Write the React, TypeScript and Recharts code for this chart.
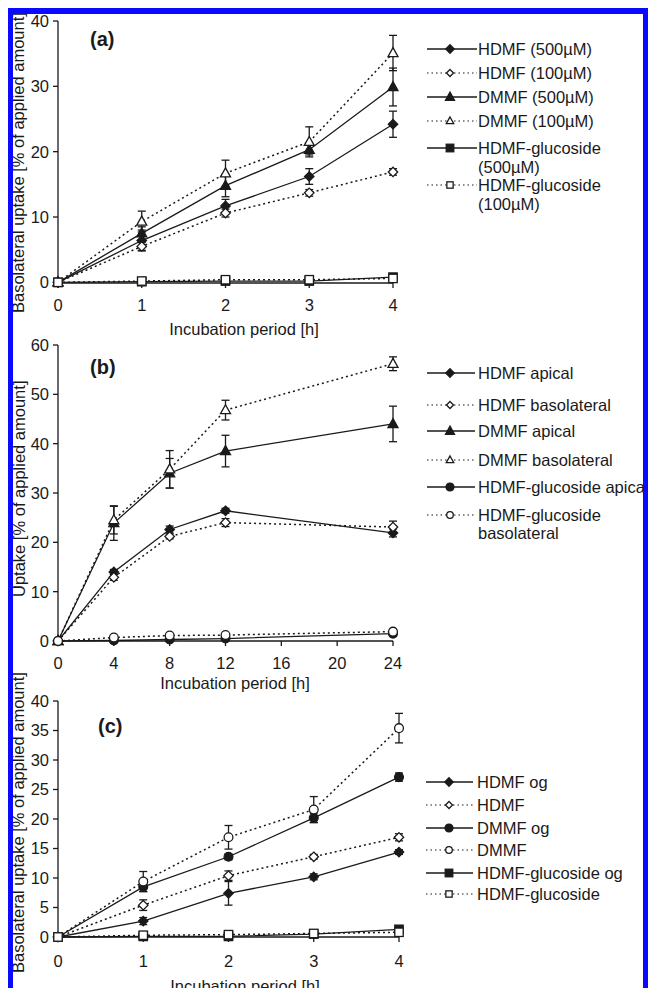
import React from "react";
import { LineChart, Line, XAxis, YAxis, ErrorBar, Label } from "recharts";

const FONT = '"Liberation Sans", Arial, Helvetica, sans-serif';
const INK = "#1a1a1a";
const BLUE = "#0a0aff";

// ---------- Panel (a) ----------
const hoursA = [0, 1, 2, 3, 4];
const xTicksA = [0, 1, 2, 3, 4];
const yTicksA = [0, 10, 20, 30, 40];
const aHdmf500 = [0, 6.4, 11.7, 16.2, 24.2];
const aHdmf500Err = [0, 1.6, 1.0, 1.2, 2.0];
const aHdmf100 = [0, 5.5, 10.6, 13.7, 16.9];
const aHdmf100Err = [0, 0.6, 0.6, 0.5, 0.5];
const aDmmf500 = [0, 7.5, 14.8, 20.3, 29.9];
const aDmmf500Err = [0, 1.0, 1.7, 0.8, 2.9];
const aDmmf100 = [0, 9.3, 16.7, 21.5, 35.1];
const aDmmf100Err = [0, 1.6, 2.0, 2.3, 2.7];
const aGluc500 = [0, 0.1, 0.2, 0.2, 0.8];
const aGluc500Err = [0, 0.2, 0.2, 0.3, 0.4];
const aGluc100 = [0, 0.2, 0.4, 0.4, 0.6];
const aGluc100Err = [0, 0.2, 0.3, 0.3, 0.4];

// ---------- Panel (b) ----------
const hoursB = [0, 4, 8, 12, 24];
const xTicksB = [0, 4, 8, 12, 16, 20, 24];
const yTicksB = [0, 10, 20, 30, 40, 50, 60];
const bHdmfAp = [0, 14.0, 22.6, 26.4, 21.9];
const bHdmfApErr = [0, 0.5, 0.7, 0.5, 0.8];
const bHdmfBl = [0, 12.9, 21.2, 24.0, 23.1];
const bHdmfBlErr = [0, 0.6, 0.5, 0.8, 1.2];
const bDmmfAp = [0, 23.9, 34.0, 38.5, 44.0];
const bDmmfApErr = [0, 3.5, 3.0, 3.2, 3.6];
const bDmmfBl = [0, 24.5, 34.8, 46.8, 56.2];
const bDmmfBlErr = [0, 2.8, 3.8, 2.0, 1.4];
const bGlucAp = [0, 0.1, 0.3, 0.5, 1.5];
const bGlucApErr = [0, 0.1, 0.1, 0.2, 0.3];
const bGlucBl = [0, 0.7, 1.1, 1.2, 1.9];
const bGlucBlErr = [0, 0.2, 0.2, 0.3, 0.4];

// ---------- Panel (c) ----------
const hoursC = [0, 1, 2, 3, 4];
const xTicksC = [0, 1, 2, 3, 4];
const yTicksC = [0, 5, 10, 15, 20, 25, 30, 35, 40];
const cHdmfOg = [0, 2.7, 7.4, 10.2, 14.4];
const cHdmfOgErr = [0, 0.6, 2.0, 0.5, 0.4];
const cHdmf = [0, 5.4, 10.4, 13.6, 16.9];
const cHdmfErr = [0, 0.9, 0.8, 0.4, 0.6];
const cDmmfOg = [0, 8.5, 13.6, 20.2, 27.1];
const cDmmfOgErr = [0, 0.8, 0.5, 0.8, 0.7];
const cDmmf = [0, 9.4, 16.9, 21.6, 35.4];
const cDmmfErr = [0, 1.7, 2.0, 2.2, 2.5];
const cGlucOg = [0, 0.1, 0.1, 0.5, 1.3];
const cGlucOgErr = [0, 0.1, 0.1, 0.2, 0.3];
const cGluc = [0, 0.3, 0.4, 0.6, 0.8];
const cGlucErr = [0, 0.2, 0.2, 0.3, 0.3];

type Shape = "diamond" | "triangle" | "square" | "circle";
type Series = {
  label: string[];
  values: number[];
  errors: number[];
  shape: Shape;
  filled: boolean;
  dashed: boolean;
};

const seriesA: Series[] = [
  { label: ["HDMF (500µM)"], values: aHdmf500, errors: aHdmf500Err, shape: "diamond", filled: true, dashed: false },
  { label: ["HDMF (100µM)"], values: aHdmf100, errors: aHdmf100Err, shape: "diamond", filled: false, dashed: true },
  { label: ["DMMF (500µM)"], values: aDmmf500, errors: aDmmf500Err, shape: "triangle", filled: true, dashed: false },
  { label: ["DMMF (100µM)"], values: aDmmf100, errors: aDmmf100Err, shape: "triangle", filled: false, dashed: true },
  { label: ["HDMF-glucoside", "(500µM)"], values: aGluc500, errors: aGluc500Err, shape: "square", filled: true, dashed: false },
  { label: ["HDMF-glucoside", "(100µM)"], values: aGluc100, errors: aGluc100Err, shape: "square", filled: false, dashed: true },
];

const seriesB: Series[] = [
  { label: ["HDMF apical"], values: bHdmfAp, errors: bHdmfApErr, shape: "diamond", filled: true, dashed: false },
  { label: ["HDMF basolateral"], values: bHdmfBl, errors: bHdmfBlErr, shape: "diamond", filled: false, dashed: true },
  { label: ["DMMF apical"], values: bDmmfAp, errors: bDmmfApErr, shape: "triangle", filled: true, dashed: false },
  { label: ["DMMF basolateral"], values: bDmmfBl, errors: bDmmfBlErr, shape: "triangle", filled: false, dashed: true },
  { label: ["HDMF-glucoside apical"], values: bGlucAp, errors: bGlucApErr, shape: "circle", filled: true, dashed: false },
  { label: ["HDMF-glucoside", "basolateral"], values: bGlucBl, errors: bGlucBlErr, shape: "circle", filled: false, dashed: true },
];

const seriesC: Series[] = [
  { label: ["HDMF og"], values: cHdmfOg, errors: cHdmfOgErr, shape: "diamond", filled: true, dashed: false },
  { label: ["HDMF"], values: cHdmf, errors: cHdmfErr, shape: "diamond", filled: false, dashed: true },
  { label: ["DMMF og"], values: cDmmfOg, errors: cDmmfOgErr, shape: "circle", filled: true, dashed: false },
  { label: ["DMMF"], values: cDmmf, errors: cDmmfErr, shape: "circle", filled: false, dashed: true },
  { label: ["HDMF-glucoside og"], values: cGlucOg, errors: cGlucOgErr, shape: "square", filled: true, dashed: false },
  { label: ["HDMF-glucoside"], values: cGluc, errors: cGlucErr, shape: "square", filled: false, dashed: true },
];

function Marker({ cx, cy, shape, filled, s = 1 }: { cx: number; cy: number; shape: Shape; filled: boolean; s?: number }) {
  if (cx == null || cy == null || isNaN(cx) || isNaN(cy)) return null;
  const common = { fill: filled ? INK : "#ffffff", stroke: INK, strokeWidth: 1.3 };
  if (shape === "diamond") {
    const r = 4.7 * s;
    return <polygon points={`${cx},${cy - r} ${cx + r},${cy} ${cx},${cy + r} ${cx - r},${cy}`} {...common} />;
  }
  if (shape === "triangle") {
    const w = 5 * s;
    const h = 9 * s;
    return <polygon points={`${cx},${cy - h * 0.6} ${cx + w},${cy + h * 0.4} ${cx - w},${cy + h * 0.4}`} {...common} />;
  }
  if (shape === "square") {
    const r = 4.2 * s;
    return <rect x={cx - r} y={cy - r} width={2 * r} height={2 * r} {...common} />;
  }
  return <circle cx={cx} cy={cy} r={4.4 * s} {...common} />;
}

type PanelProps = {
  top: number;
  height: number;
  margin: { top: number; right: number; bottom: number; left: number };
  hours: number[];
  xTicks: number[];
  yTicks: number[];
  series: Series[];
  tickMargin: number;
  title: { x: number; y: number };
  letter: string;
  letterPos: { x: number; y: number };
  yLabel: string;
  yLabelPos: { x: number; y: number };
};

function Panel(p: PanelProps) {
  const data = p.hours.map((h, i) => {
    const row: Record<string, number> = { h };
    p.series.forEach((s, k) => {
      row[`v${k}`] = s.values[i];
      row[`e${k}`] = s.errors[i];
    });
    return row;
  });
  const xMax = p.xTicks[p.xTicks.length - 1];
  const yMax = p.yTicks[p.yTicks.length - 1];
  const axisStyle = { stroke: INK, strokeWidth: 1.3 };
  const tickStyle = { fill: INK, fontSize: 16.5, fontFamily: FONT };
  return (
    <div style={{ position: "absolute", left: 0, top: p.top, width: 648, height: p.height }}>
      <LineChart width={648} height={p.height} data={data} margin={p.margin}>
        <XAxis
          dataKey="h"
          type="number"
          domain={[0, xMax]}
          ticks={p.xTicks}
          interval={0}
          tickSize={5}
          tickMargin={p.tickMargin}
          height={30}
          axisLine={axisStyle}
          tickLine={axisStyle}
          tick={tickStyle}
        >
          <Label
            content={() => (
              <text x={p.title.x} y={p.title.y} textAnchor="middle" fill={INK} fontSize={16.5} fontFamily={FONT}>
                Incubation period [h]
              </text>
            )}
          />
        </XAxis>
        <YAxis
          type="number"
          domain={[0, yMax]}
          ticks={p.yTicks}
          interval={0}
          width={50}
          tickSize={5}
          tickMargin={4}
          axisLine={axisStyle}
          tickLine={axisStyle}
          tick={tickStyle}
        >
          <Label
            content={() => (
              <text
                x={p.yLabelPos.x}
                y={p.yLabelPos.y}
                transform={`rotate(-90 ${p.yLabelPos.x} ${p.yLabelPos.y})`}
                textAnchor="start"
                fill={INK}
                fontSize={16.5}
                fontFamily={FONT}
              >
                {p.yLabel}
              </text>
            )}
          />
          <Label
            content={() => (
              <text x={p.letterPos.x} y={p.letterPos.y} fill={INK} fontSize={20} fontWeight="bold" fontFamily={FONT}>
                {p.letter}
              </text>
            )}
          />
        </YAxis>
        {p.series.map((s, k) => (
          <Line
            key={k}
            dataKey={`v${k}`}
            stroke={INK}
            strokeWidth={s.dashed ? 1.5 : 1.3}
            strokeDasharray={s.dashed ? "2 3" : undefined}
            isAnimationActive={false}
            activeDot={false}
            dot={(d: any) => (
              <Marker key={`d${k}-${d.index}`} cx={d.cx} cy={d.cy} shape={s.shape} filled={s.filled} />
            )}
          >
            <ErrorBar dataKey={`e${k}`} width={4} stroke={INK} strokeWidth={1.3} direction="y" isAnimationActive={false} />
          </Line>
        ))}
      </LineChart>
    </div>
  );
}

type LegendSpec = { series: Series[]; x1: number; x2: number; mx: number; tx: number; rows: number[]; gap: number };

const legendA: LegendSpec = { series: seriesA, x1: 427, x2: 477, mx: 450, tx: 478, rows: [49, 73, 97, 121, 148, 185], gap: 19 };
const legendB: LegendSpec = { series: seriesB, x1: 427, x2: 475, mx: 450, tx: 478, rows: [373, 405, 431, 460, 487, 515], gap: 18 };
const legendC: LegendSpec = { series: seriesC, x1: 426, x2: 473, mx: 449, tx: 477, rows: [782, 805, 828, 850, 873, 894], gap: 18 };

function LegendBlock({ spec }: { spec: LegendSpec }) {
  return (
    <g>
      {spec.series.map((s, i) => {
        const y = spec.rows[i];
        return (
          <g key={i}>
            <line
              x1={spec.x1}
              x2={spec.x2}
              y1={y}
              y2={y}
              stroke={INK}
              strokeWidth={s.dashed ? 1.2 : 1.3}
              strokeDasharray={s.dashed ? "1.5 3" : undefined}
            />
            <Marker cx={spec.mx} cy={y} shape={s.shape} filled={s.filled} s={s.filled ? 0.9 : 0.75} />
            {s.label.map((t, j) => (
              <text key={j} x={spec.tx} y={y + j * spec.gap + 6} fill={INK} fontSize={16.5} fontFamily={FONT}>
                {t}
              </text>
            ))}
          </g>
        );
      })}
    </g>
  );
}

export default function App() {
  return (
    <div style={{ position: "absolute", left: 0, top: 0, width: 648, height: 988, overflow: "hidden", background: "#fff" }}>
      <style>{"html,body{margin:0;padding:0;overflow:hidden;background:#fff}"}</style>
      <Panel
        top={0}
        height={340}
        margin={{ top: 21, right: 255, bottom: 27, left: 8 }}
        hours={hoursA}
        xTicks={xTicksA}
        yTicks={yTicksA}
        series={seriesA}
        tickMargin={11}
        title={{ x: 244, y: 335 }}
        letter="(a)"
        letterPos={{ x: 90, y: 46 }}
        yLabel="Basolateral uptake [% of applied amount]"
        yLabelPos={{ x: 24, y: 313 }}
      />
      <Panel
        top={330}
        height={380}
        margin={{ top: 15, right: 255, bottom: 39, left: 8 }}
        hours={hoursB}
        xTicks={xTicksB}
        yTicks={yTicksB}
        series={seriesB}
        tickMargin={11}
        title={{ x: 235, y: 359 }}
        letter="(b)"
        letterPos={{ x: 90, y: 44 }}
        yLabel="Uptake [% of applied amount]"
        yLabelPos={{ x: 24.5, y: 267 }}
      />
      <Panel
        top={660}
        height={340}
        margin={{ top: 41, right: 249, bottom: 33, left: 8 }}
        hours={hoursC}
        xTicks={xTicksC}
        yTicks={yTicksC}
        series={seriesC}
        tickMargin={13}
        title={{ x: 245, y: 332 }}
        letter="(c)"
        letterPos={{ x: 98, y: 73 }}
        yLabel="Basolateral uptake [% of applied amount]"
        yLabelPos={{ x: 24, y: 313 }}
      />
      <svg width={648} height={988} style={{ position: "absolute", left: 0, top: 0 }}>
        <LegendBlock spec={legendA} />
        <LegendBlock spec={legendB} />
        <LegendBlock spec={legendC} />
      </svg>
      <div
        style={{
          position: "absolute",
          left: 8,
          top: 8,
          width: 630,
          height: 1000,
          borderLeft: `5px solid ${BLUE}`,
          borderTop: `6px solid ${BLUE}`,
          borderRight: `5px solid ${BLUE}`,
          pointerEvents: "none",
        }}
      />
    </div>
  );
}
